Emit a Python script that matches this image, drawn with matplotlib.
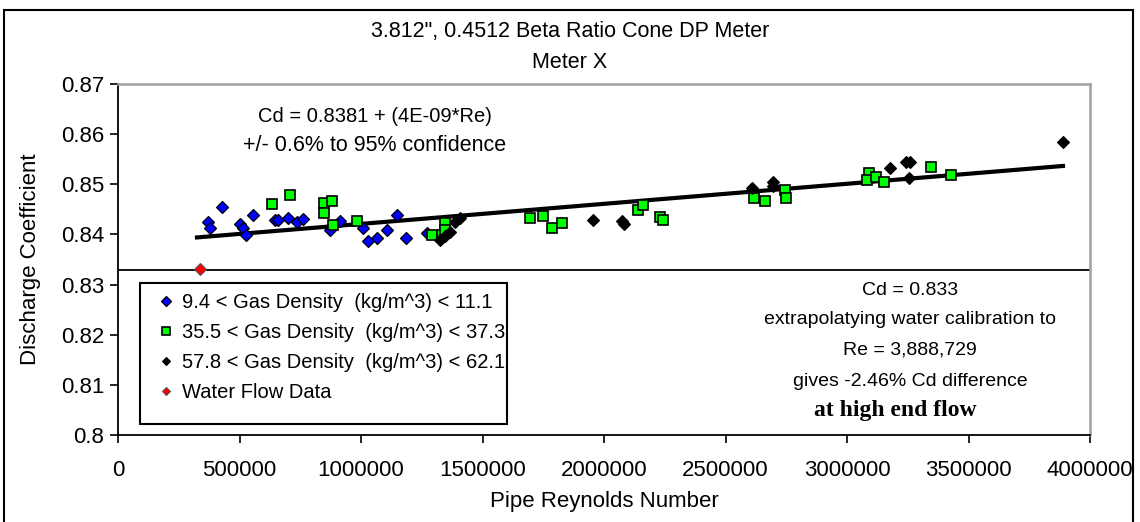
import matplotlib
matplotlib.use("Agg")
import matplotlib.pyplot as plt
from matplotlib.patches import Rectangle
from matplotlib.ticker import FuncFormatter

plt.rcParams['font.family'] = ['Liberation Sans', 'DejaVu Sans']

# gas test data, pipe Reynolds number vs discharge coefficient
blue_re = [370000, 379000, 428000, 502000, 514000, 527000, 556000, 646000, 658000,
           700000, 737000, 761000, 872000, 914000, 1008000, 1029000, 1066000,
           1107000, 1148000, 1185000, 1272000]
blue_cd = [0.8425, 0.8413, 0.8455, 0.8421, 0.8413, 0.8399, 0.8439, 0.8429, 0.8429,
           0.8433, 0.8425, 0.8431, 0.8409, 0.8427, 0.8413, 0.8387, 0.8393,
           0.8409, 0.8439, 0.8393, 0.8403]

green_re = [634000, 708000, 848000, 881000, 848000, 885000, 984000, 1292000, 1333000,
            1346000, 1346000, 1695000, 1749000, 1786000, 1827000, 2140000, 2160000,
            2230000, 2243000, 2617000, 2663000, 2745000, 2749000, 3091000, 3082000,
            3119000, 3152000, 3346000, 3428000]
green_cd = [0.8461, 0.8479, 0.8463, 0.8467, 0.8443, 0.8419, 0.8427, 0.8399, 0.8399,
            0.8423, 0.8409, 0.8433, 0.8437, 0.8413, 0.8423, 0.8449, 0.8459,
            0.8435, 0.8429, 0.8473, 0.8467, 0.8489, 0.8473, 0.8523, 0.8509,
            0.8515, 0.8505, 0.8535, 0.8519]

black_re = [1325000, 1346000, 1366000, 1387000, 1407000, 1955000, 2074000, 2082000,
            2609000, 2695000, 2695000, 3177000, 3243000, 3259000, 3255000, 3889000]
black_cd = [0.8389, 0.8397, 0.8405, 0.8425, 0.8433, 0.8429, 0.8427, 0.8421,
            0.8493, 0.8505, 0.8497, 0.8532, 0.8544, 0.8544, 0.8512, 0.8584]

water_re = [337000]
water_cd = [0.8332]

# fitted line Cd = a + b*Re, and water calibration Cd
fit_a = 0.8381
fit_b = 4e-09
fit_re = [325000, 3888729]
water_cal = 0.833

labels = ['9.4 < Gas Density  (kg/m^3) < 11.1',
          '35.5 < Gas Density  (kg/m^3) < 37.3',
          '57.8 < Gas Density  (kg/m^3) < 62.1',
          'Water Flow Data']

fig = plt.figure(figsize=(11.4, 5.22), dpi=100)
ax = fig.add_axes([118/1140, 1-435/522, 972/1140, 351/522])

ax.plot(fit_re, [fit_a + fit_b*r for r in fit_re], color='black', lw=3, zorder=2)
ax.axhline(water_cal, color='black', lw=1.3, zorder=2)

ax.plot(blue_re, blue_cd, 'D', ms=6.5, mfc='#0000ff', mec='black', mew=0.9,
        ls='none', label=labels[0], zorder=3)
ax.plot(green_re, green_cd, 's', ms=7.5, mfc='#00ff00', mec='black', mew=1.2,
        ls='none', label=labels[1], zorder=3)
ax.plot(black_re, black_cd, 'D', ms=6, mfc='black', mec='black', mew=0.8,
        ls='none', label=labels[2], zorder=3)
ax.plot(water_re, water_cd, 'D', ms=6, mfc='#ff0000', mec='#555555', mew=0.8,
        ls='none', label=labels[3], zorder=3)

ax.set_xlim(0, 4000000)
ax.set_ylim(0.8, 0.87)
ax.set_xticks(range(0, 4000001, 500000))
ax.set_yticks([0.8, 0.81, 0.82, 0.83, 0.84, 0.85, 0.86, 0.87])
ax.xaxis.set_major_formatter(FuncFormatter(lambda v, p: '%d' % v))
ax.yaxis.set_major_formatter(FuncFormatter(lambda v, p: '%g' % round(v, 2)))
ax.tick_params(axis='both', direction='out', length=6, width=1.2, labelsize=16,
               colors='black')
ax.tick_params(axis='x', pad=12)
ax.tick_params(axis='y', pad=4)
for s in ['left', 'bottom']:
    ax.spines[s].set_color('black')
    ax.spines[s].set_linewidth(1.3)
for s in ['top', 'right']:
    ax.spines[s].set_color('#a0a0a0')
    ax.spines[s].set_linewidth(1.8)

ax.set_ylabel('Discharge Coefficient', fontsize=16, labelpad=14)
fig.text(604/1140, 1-502/522, 'Pipe Reynolds Number', fontsize=16,
         ha='center', va='center')

fig.text(0.5, 1-32/522, '3.812", 0.4512 Beta Ratio Cone DP Meter', fontsize=15.5,
         ha='center', va='center')
fig.text(0.5, 1-62/522, 'Meter X', fontsize=15.5, ha='center', va='center')

ax.text(0.264, 0.906, 'Cd = 0.8381 + (4E-09*Re)', transform=ax.transAxes,
        fontsize=14.5, ha='center', va='center')
ax.text(0.264, 0.826, '+/- 0.6% to 95% confidence', transform=ax.transAxes,
        fontsize=15.5, ha='center', va='center')

note = ['Cd = 0.833', 'extrapolatying water calibration to', 'Re = 3,888,729',
        'gives -2.46% Cd difference']
note_y = [0.413, 0.328, 0.242, 0.151]
for t, y in zip(note, note_y):
    ax.text(0.815, y, t, transform=ax.transAxes, fontsize=14,
            ha='center', va='center')
ax.text(0.80, 0.071, 'at high end flow', transform=ax.transAxes, fontsize=17,
        ha='center', va='center', family='Liberation Serif', weight='bold')

# legend box drawn separately so its height can be set
ax.add_patch(Rectangle((0.0226, 0.031), 0.378, 0.402, transform=ax.transAxes,
                       facecolor='white', edgecolor='black', lw=1.5, zorder=4))
leg = ax.legend(loc='upper left', bbox_to_anchor=(0.0226, 0.433, 0.378, 0.0),
                mode='expand', fontsize=14.5, frameon=False,
                handlelength=1.6, handletextpad=0.0, labelspacing=0.55,
                markerscale=0.75, borderpad=0.5, borderaxespad=0)
leg.set_zorder(5)

# outer chart border
fig.patches.append(Rectangle((4/1140, -0.01), 1129/1140, 1-10/522+0.01,
                             transform=fig.transFigure, fill=False,
                             edgecolor='black', lw=1.5))

fig.savefig('out.png', dpi=100)
